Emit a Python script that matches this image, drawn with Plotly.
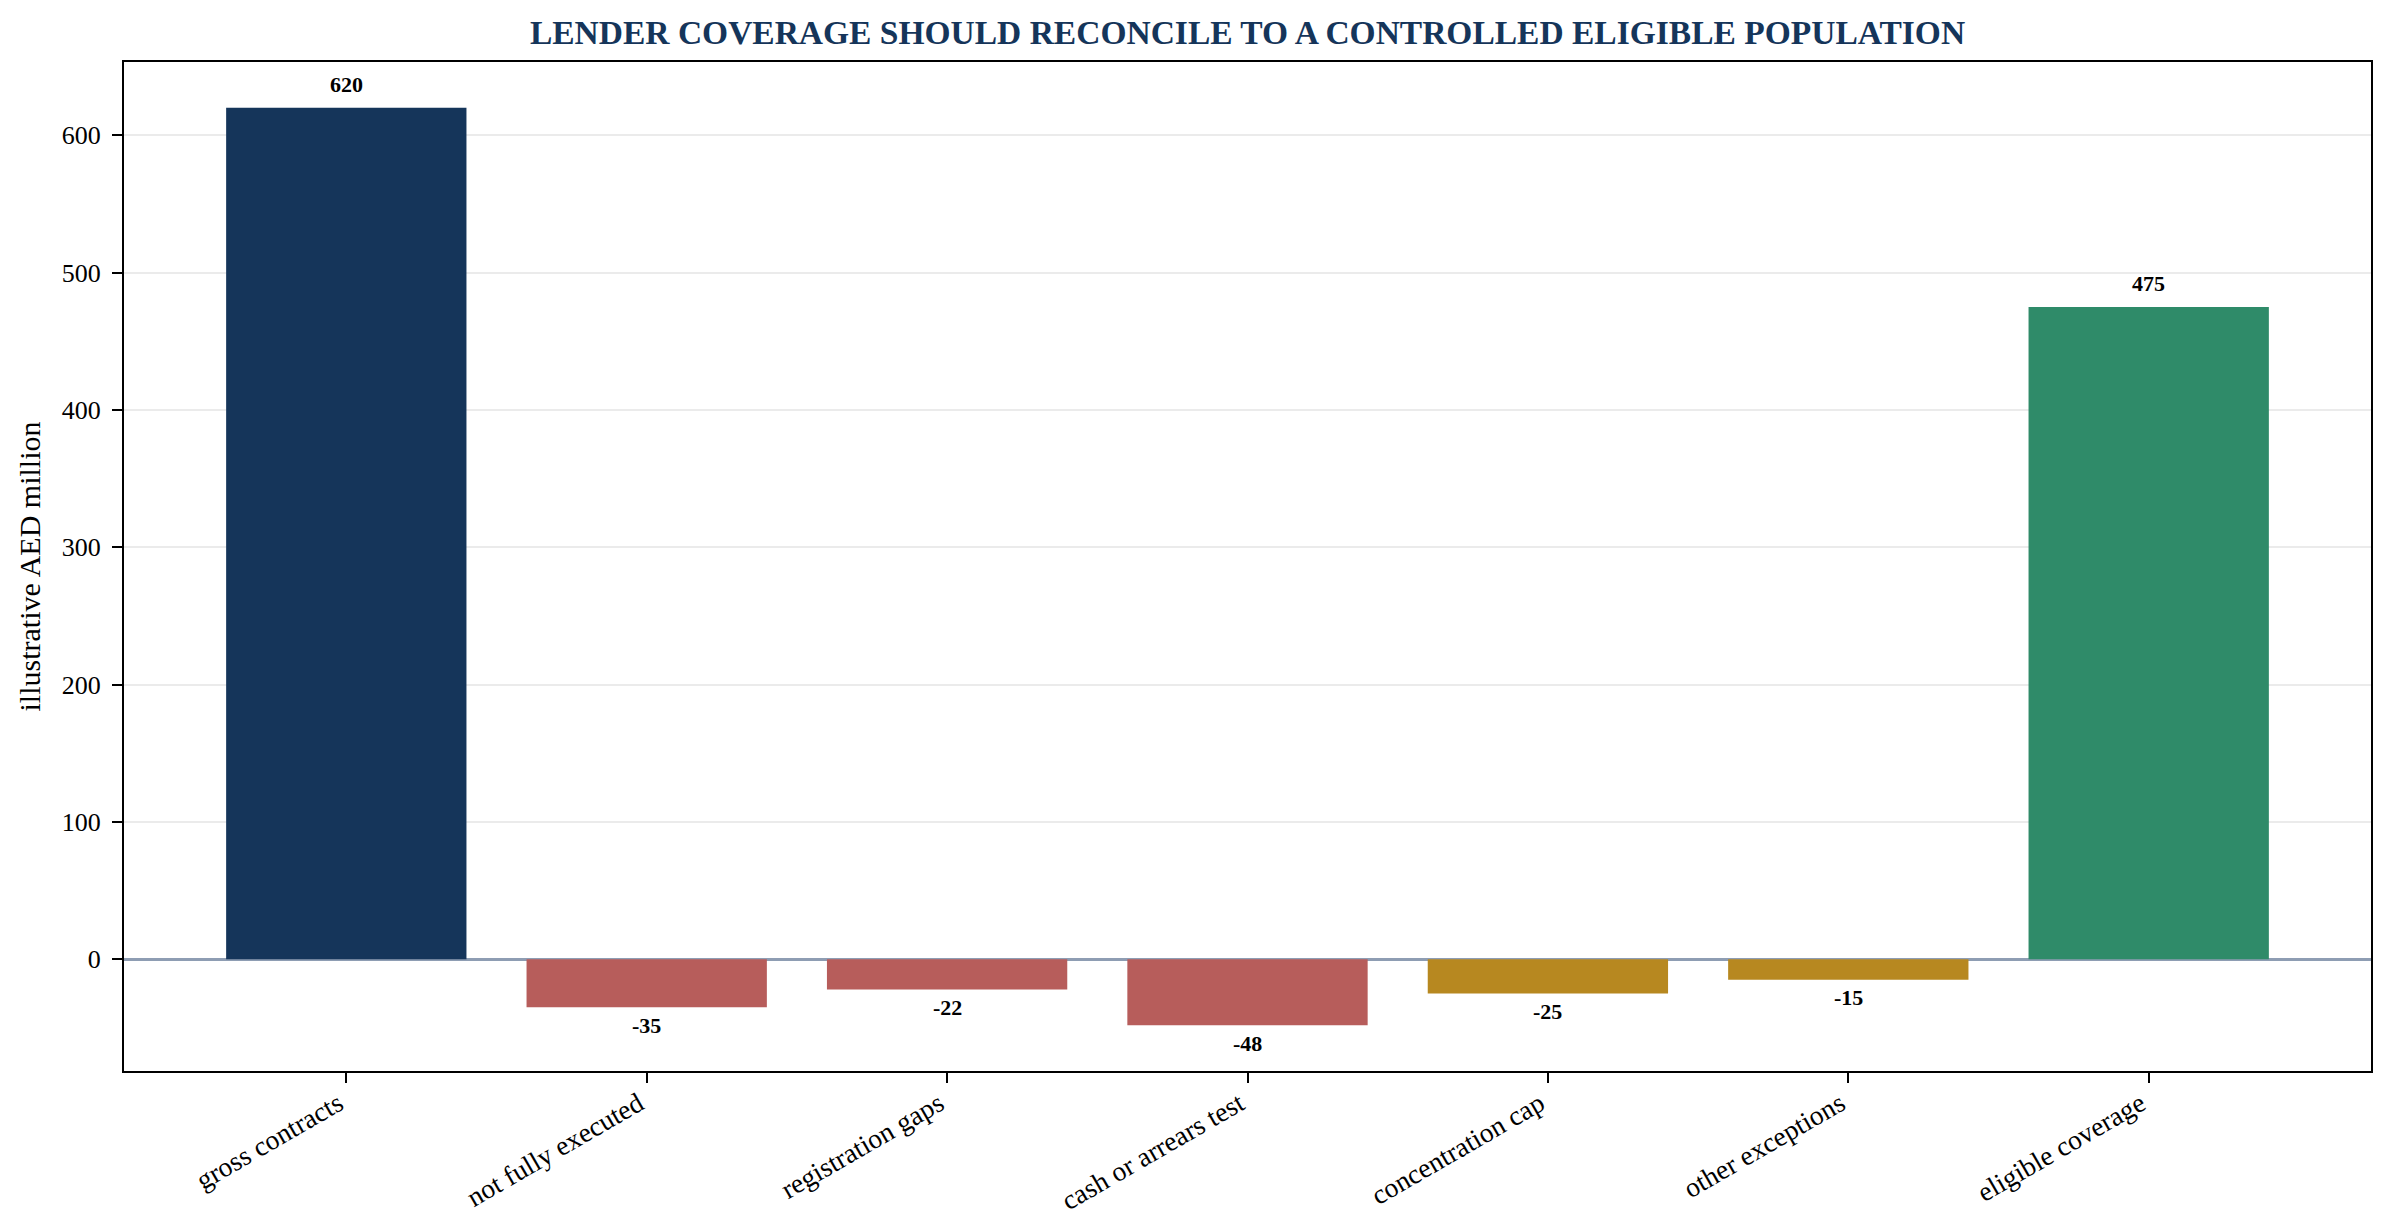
import plotly.graph_objects as go

# ── Data ──────────────────────────────────────────────────────────────────────
categories = [
    "gross contracts", "not fully executed", "registration gaps",
    "cash or arrears test", "concentration cap", "other exceptions",
    "eligible coverage",
]
values = [620, -35, -22, -48, -25, -15, 475]
kinds = ["gross", "legal", "legal", "legal", "policy", "policy", "eligible"]

KIND_COLORS = {
    "gross": "#15355a",
    "legal": "#b75d5b",
    "policy": "#b78820",
    "eligible": "#2f8b69",
}
NAVY = "#15355a"
FONT = "Liberation Serif, Times New Roman, serif"

# page body keeps its default 8px margin, so the plot div is 16px smaller
PAGE_H = 1232 - 16

fig = go.Figure(go.Bar(
    x=list(range(len(categories))),
    y=values,
    width=0.8,
    marker=dict(color=[KIND_COLORS[k] for k in kinds], line=dict(width=0)),
    hovertemplate="%{customdata}: %{y}<extra></extra>",
    customdata=categories,
))

# value labels above positive bars, below negative ones
for i, v in enumerate(values):
    fig.add_annotation(
        x=i, y=v, text=f"<b>{v}</b>", showarrow=False,
        yanchor="middle", yshift=23 if v > 0 else -18,
        font=dict(family=FONT, size=22, color="black"),
    )

fig.update_layout(
    title=dict(
        text="<b>LENDER COVERAGE SHOULD RECONCILE TO A CONTROLLED ELIGIBLE POPULATION</b>",
        x=0.5, xref="paper", xanchor="center",
        y=1 - 24 / PAGE_H, yref="container", yanchor="middle",
        font=dict(family=FONT, size=33.5, color=NAVY),
    ),
    font=dict(family=FONT, size=26, color="black"),
    plot_bgcolor="white",
    paper_bgcolor="white",
    margin=dict(l=116, r=14, t=54, b=153, autoexpand=False),
    showlegend=False,
)
fig.update_xaxes(
    range=[-0.74, 6.74],
    tickmode="array",
    tickvals=list(range(len(categories))),
    ticktext=categories,
    tickangle=-30,
    ticks="outside", ticklen=10, tickwidth=2, tickcolor="black",
    ticklabelstandoff=-6, ticklabelshift=-8,
    showline=True, linecolor="black", linewidth=2, mirror=True,
    showgrid=False, zeroline=False, automargin=False,
    tickfont=dict(size=27.5),
)
fig.update_yaxes(
    range=[-81.4, 653.4],
    dtick=100,
    ticks="outside", ticklen=10, tickwidth=2, tickcolor="black",
    ticklabelstandoff=6,
    showline=True, linecolor="black", linewidth=2, mirror=True,
    showgrid=True, gridcolor="#ebebeb", gridwidth=1.5,
    zeroline=True, zerolinecolor="#8e9db3", zerolinewidth=2.5,
    automargin=False,
    title=dict(text="illustrative AED million", font=dict(size=30), standoff=12),
    tickfont=dict(size=26),
)

fig.write_html("out.html")
